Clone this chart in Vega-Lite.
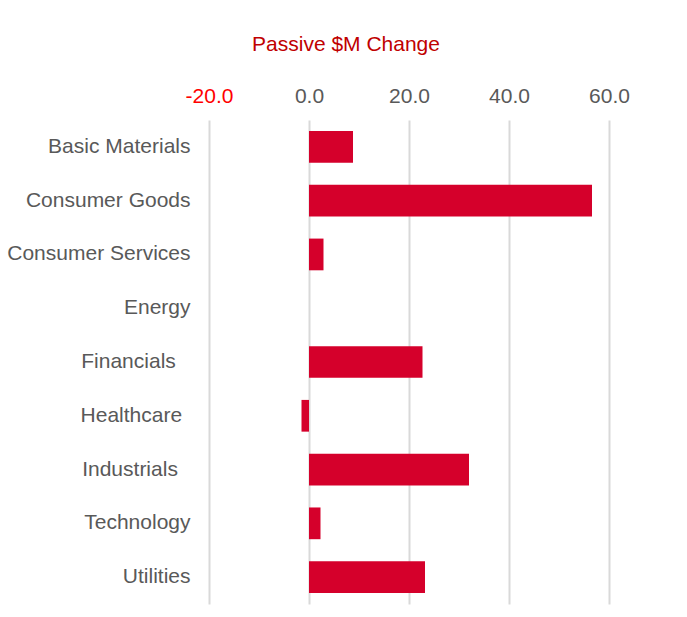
{
  "$schema": "https://vega.github.io/schema/vega-lite/v6.json",
  "autosize": {"type": "none"},
  "width": 400,
  "height": 484,
  "padding": {"left": 209, "top": 120, "right": 78, "bottom": 13},
  "background": "#FFFFFF",
  "config": {
    "view": {"stroke": null},
    "font": "Liberation Sans"
  },
  "title": {
    "text": "Passive $M Change",
    "color": "#C00000",
    "fontSize": 21,
    "fontWeight": "normal",
    "font": "Liberation Sans",
    "anchor": "middle",
    "dx": -63,
    "offset": 30
  },
  "data": {
    "values": [
      {"sector": "Basic Materials", "change": 8.8},
      {"sector": "Consumer Goods", "change": 56.6},
      {"sector": "Consumer Services", "change": 2.9},
      {"sector": "Energy", "change": 0},
      {"sector": "Financials", "change": 22.7},
      {"sector": "Healthcare", "change": -1.5},
      {"sector": "Industrials", "change": 32.0},
      {"sector": "Technology", "change": 2.3},
      {"sector": "Utilities", "change": 23.2}
    ]
  },
  "mark": {"type": "bar", "color": "#D5002B"},
  "encoding": {
    "y": {
      "field": "sector",
      "type": "nominal",
      "sort": null,
      "scale": {"paddingInner": 0.41, "paddingOuter": 0.205},
      "axis": {
        "title": null,
        "ticks": false,
        "tickSize": 0,
        "domain": false,
        "grid": false,
        "labelPadding": 19,
        "labelLimit": 0,
        "labelFontSize": 21,
        "labelColor": "#595959",
        "labelFont": "Liberation Sans",
        "labelExpr": "datum.value == 'Financials' ? 'Financials\u2002\u2009\u200b' : datum.value == 'Healthcare' ? 'Healthcare\u2009\u2009\u200b' : datum.value == 'Industrials' ? 'Industrials\u2009\u2009\u2009\u200b' : datum.value"
      }
    },
    "x": {
      "field": "change",
      "type": "quantitative",
      "scale": {"domain": [-20, 60], "nice": false, "zero": false},
      "axis": {
        "orient": "top",
        "title": null,
        "values": [-20, 0, 20, 40, 60],
        "labelExpr": "datum.value < 0 ? '-' + format(-datum.value, '.1f') : format(datum.value, '.1f')",
        "labelFlush": false,
        "labelOverlap": false,
        "ticks": false,
        "tickSize": 0,
        "domain": false,
        "grid": true,
        "gridColor": "#D9D9D9",
        "gridWidth": 2,
        "labelPadding": 14,
        "labelFontSize": 21,
        "labelFont": "Liberation Sans",
        "labelColor": {"expr": "datum.value < 0 ? '#FF0000' : '#595959'"}
      }
    }
  }
}
